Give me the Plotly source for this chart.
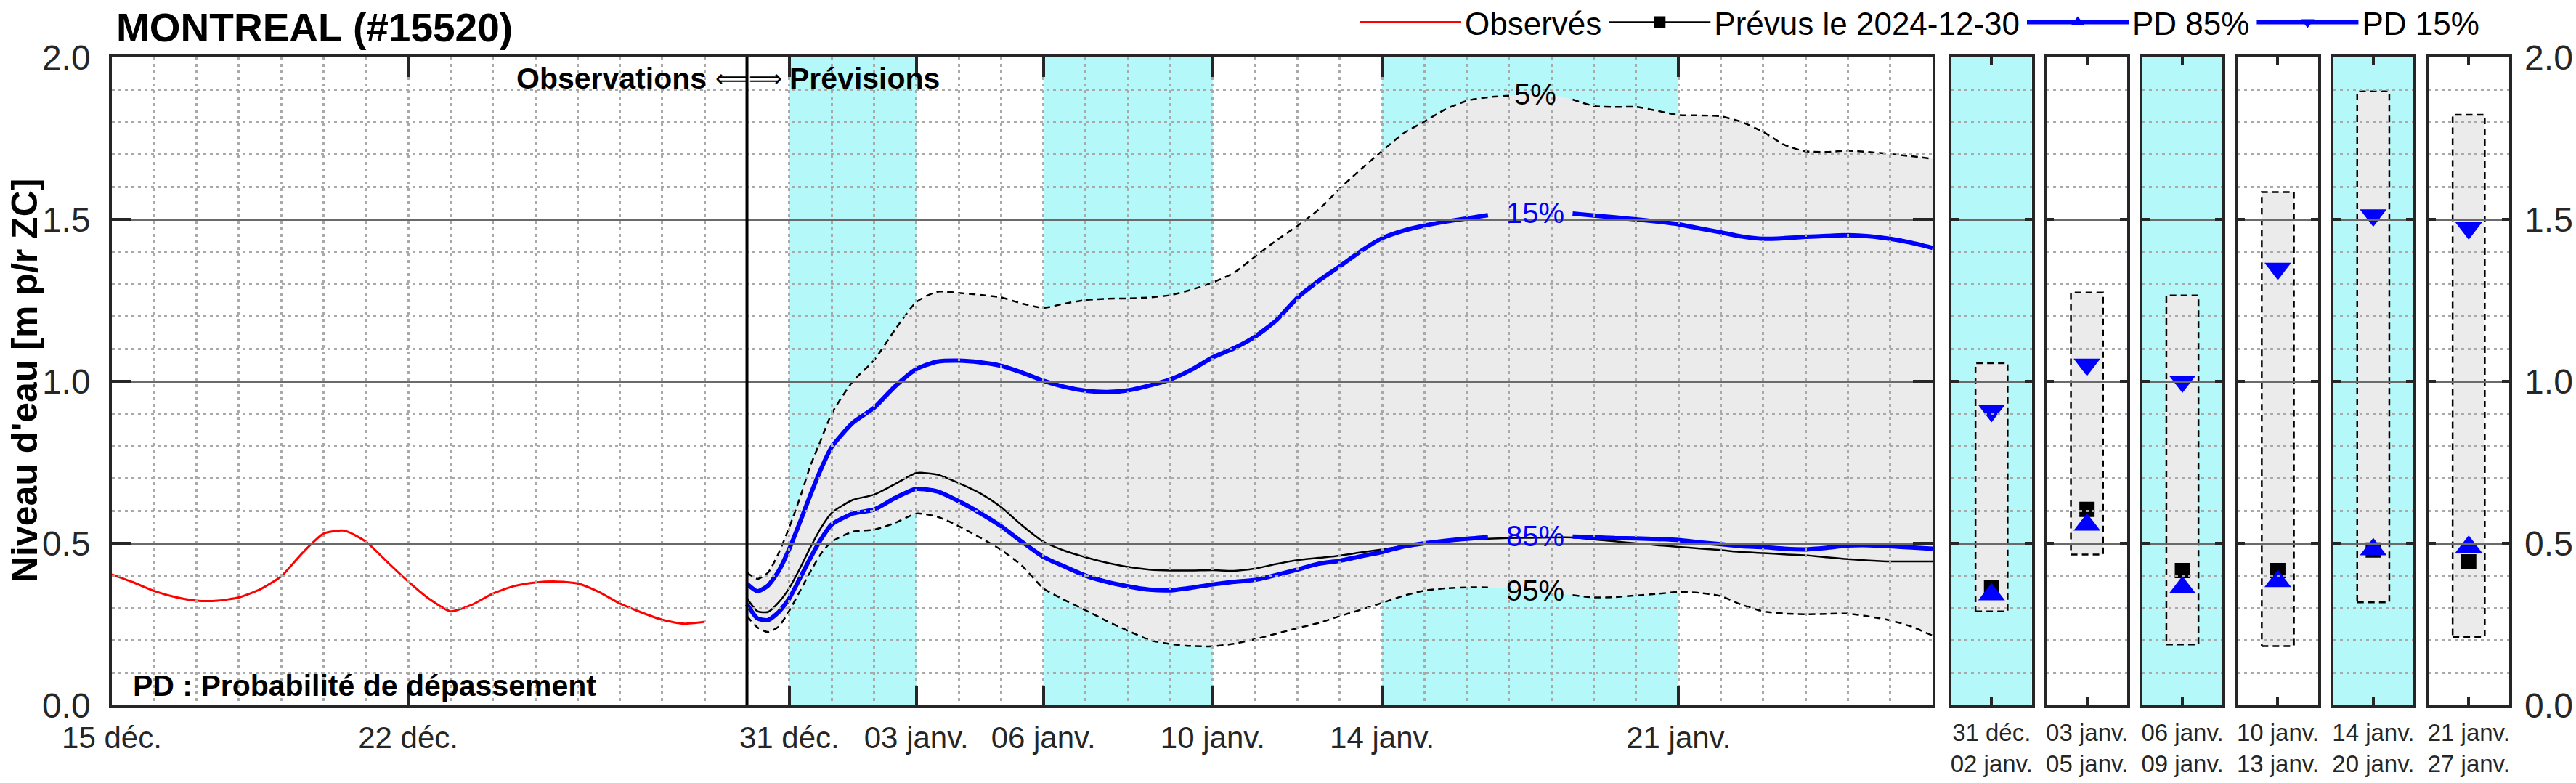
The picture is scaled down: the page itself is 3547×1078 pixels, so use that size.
import numpy as np
import pandas as pd
import plotly.graph_objects as go

W, H = 3547, 1078

# ------------------------------------------------------------------ data
obs_times = pd.date_range("2024-12-15 00:00", "2024-12-29 00:00", freq="12h")
obs_level = [0.404, 0.380, 0.353, 0.334, 0.323, 0.323, 0.333, 0.358, 0.398, 0.470,
             0.530, 0.539, 0.505, 0.443, 0.382, 0.328, 0.290, 0.310, 0.345, 0.368,
             0.379, 0.382, 0.376, 0.350, 0.314, 0.287, 0.264, 0.252, 0.258]

fc_times = pd.date_range("2024-12-30 00:00", periods=8, freq="6h").append(
    pd.date_range("2025-01-01 00:00", "2025-01-27 00:00", freq="12h"))

prevu = [0.330, 0.290, 0.288, 0.318, 0.362, 0.422, 0.488, 0.548,
         0.594, 0.634, 0.650, 0.683, 0.717, 0.712, 0.686, 0.655, 0.612, 0.555,
         0.505, 0.477, 0.457, 0.440, 0.427, 0.419, 0.416, 0.416, 0.417, 0.415,
         0.422, 0.436, 0.448, 0.455, 0.462, 0.472, 0.481, 0.491, 0.500, 0.506,
         0.511, 0.514, 0.516, 0.517, 0.518, 0.518, 0.512, 0.506, 0.500, 0.494,
         0.489, 0.484, 0.479, 0.473, 0.470, 0.466, 0.463, 0.457, 0.451, 0.447,
         0.444, 0.444, 0.444]
pd5 = [0.41, 0.39, 0.41, 0.47, 0.55, 0.64, 0.74, 0.82,
       0.90, 1.00, 1.065, 1.16, 1.245, 1.277, 1.273, 1.267, 1.259, 1.240,
       1.227, 1.240, 1.251, 1.255, 1.256, 1.259, 1.266, 1.283, 1.305, 1.335,
       1.385, 1.435, 1.480, 1.530, 1.595, 1.655, 1.711, 1.765, 1.802, 1.840,
       1.866, 1.877, 1.882, 1.885, 1.884, 1.870, 1.850, 1.847, 1.847, 1.835,
       1.822, 1.821, 1.818, 1.800, 1.770, 1.730, 1.710, 1.708, 1.712, 1.708,
       1.702, 1.695, 1.687]
pd15 = [0.375, 0.352, 0.370, 0.415, 0.483, 0.565, 0.650, 0.730,
        0.797, 0.872, 0.918, 0.985, 1.038, 1.061, 1.064, 1.059, 1.048, 1.027,
        1.002, 0.983, 0.971, 0.967, 0.972, 0.987, 1.006, 1.036, 1.074, 1.102,
        1.138, 1.188, 1.258, 1.310, 1.355, 1.402, 1.442, 1.465, 1.481, 1.493,
        1.503, 1.513, 1.518, 1.520, 1.520, 1.518, 1.512, 1.506, 1.500, 1.493,
        1.485, 1.472, 1.460, 1.447, 1.440, 1.442, 1.446, 1.449, 1.451, 1.448,
        1.440, 1.428, 1.412]
pd85 = [0.312, 0.268, 0.263, 0.288, 0.330, 0.392, 0.455, 0.513,
        0.558, 0.592, 0.604, 0.640, 0.668, 0.660, 0.630, 0.594, 0.553, 0.504,
        0.458, 0.428, 0.400, 0.381, 0.367, 0.357, 0.355, 0.363, 0.373, 0.381,
        0.387, 0.402, 0.419, 0.437, 0.446, 0.460, 0.473, 0.490, 0.500, 0.508,
        0.514, 0.519, 0.521, 0.522, 0.522, 0.521, 0.519, 0.516, 0.515, 0.513,
        0.510, 0.503, 0.497, 0.491, 0.488, 0.483, 0.481, 0.486, 0.493, 0.494,
        0.491, 0.487, 0.483]
pd95 = [0.275, 0.240, 0.226, 0.243, 0.292, 0.352, 0.413, 0.468,
        0.505, 0.536, 0.542, 0.563, 0.592, 0.582, 0.553, 0.518, 0.480, 0.430,
        0.361, 0.325, 0.293, 0.260, 0.230, 0.202, 0.189, 0.183, 0.182, 0.190,
        0.204, 0.221, 0.238, 0.254, 0.275, 0.295, 0.316, 0.338, 0.354, 0.361,
        0.364, 0.364, 0.360, 0.355, 0.348, 0.340, 0.333, 0.334, 0.339, 0.344,
        0.350, 0.347, 0.337, 0.310, 0.290, 0.283, 0.281, 0.282, 0.283, 0.274,
        0.262, 0.243, 0.215]

x_start, x_end = "2024-12-15", "2025-01-27"
tick_dates = ["2024-12-15", "2024-12-22", "2024-12-31", "2025-01-03",
              "2025-01-06", "2025-01-10", "2025-01-14", "2025-01-21"]
tick_labels = ["15 déc.", "22 déc.", "31 déc.", "03 janv.", "06 janv.",
               "10 janv.", "14 janv.", "21 janv."]
bands = [("2024-12-31", "2025-01-03"), ("2025-01-06", "2025-01-10"),
         ("2025-01-14", "2025-01-21")]

period_labels = ["31 déc.<br>02 janv.", "03 janv.<br>05 janv.", "06 janv.<br>09 janv.",
                 "10 janv.<br>13 janv.", "14 janv.<br>20 janv.", "21 janv.<br>27 janv."]
period_cyan = [True, False, True, False, True, False]
per_p5 = [1.056, 1.274, 1.265, 1.584, 1.895, 1.823]
per_p95 = [0.290, 0.465, 0.188, 0.183, 0.318, 0.211]
per_prevu = [0.364, 0.605, 0.416, 0.416, 0.479, 0.443]
per_pd85 = [0.342, 0.557, 0.363, 0.383, 0.481, 0.489]
per_pd15 = [0.909, 1.052, 1.000, 1.348, 1.513, 1.473]

label_time = pd.Timestamp("2025-01-17 15:00")

# ------------------------------------------------------------------ style
FONT = "Liberation Sans, Arial, Helvetica, sans-serif"
AX = "#262626"
CYAN = "#b4f8fa"
GRAYFILL = "#ebebeb"
DOT = "#a9a9a9"
MAJ = "#6a6a6a"
BLUE = "#0000ff"
DASH = "9px,6px"


def px_x(p):
    return p / W


def px_y(p):
    return 1 - p / H


MAIN_X = [px_x(154), px_x(2661)]
MAIN_Y = [px_y(971), px_y(79)]

fc_days = np.asarray((fc_times - label_time) / pd.Timedelta(days=1), dtype=float)


def masked(vals, half):
    return [None if abs(d) < half else v for d, v in zip(fc_days, vals)]


def at_label(vals):
    return float(np.interp(0.0, fc_days, vals))


fig = go.Figure()
spl = dict(shape="spline", smoothing=0.6)

# gray envelope 5%-95%
fig.add_trace(go.Scatter(x=fc_times, y=pd95, mode="lines", line=dict(width=0, **spl),
                         showlegend=False, hoverinfo="skip"))
fig.add_trace(go.Scatter(x=fc_times, y=pd5, mode="lines", fill="tonexty",
                         fillcolor=GRAYFILL, line=dict(width=0, **spl),
                         showlegend=False, hoverinfo="skip"))
# percentile lines
fig.add_trace(go.Scatter(x=fc_times, y=masked(pd95, 0.8), mode="lines",
                         line=dict(color="black", width=2.5, dash=DASH, **spl),
                         showlegend=False))
fig.add_trace(go.Scatter(x=fc_times, y=masked(pd5, 0.6), mode="lines",
                         line=dict(color="black", width=2.5, dash=DASH, **spl),
                         showlegend=False))
fig.add_trace(go.Scatter(x=fc_times, y=prevu, mode="lines",
                         line=dict(color="black", width=2.5, **spl), showlegend=False))
fig.add_trace(go.Scatter(x=fc_times, y=masked(pd85, 0.8), mode="lines",
                         line=dict(color=BLUE, width=6, **spl), showlegend=False))
fig.add_trace(go.Scatter(x=fc_times, y=masked(pd15, 0.8), mode="lines",
                         line=dict(color=BLUE, width=6, **spl), showlegend=False))
fig.add_trace(go.Scatter(x=obs_times, y=obs_level, mode="lines", name="Observés",
                         line=dict(color="red", width=3, **spl), legendrank=1))
# empty trace for the grid/axes layer of the main plot
fig.add_trace(go.Scatter(x=[], y=[], xaxis="x2", yaxis="y2", showlegend=False))

grid_dot = dict(gridcolor=DOT, griddash="4px,5px", gridwidth=3)
axis_common = dict(ticks="inside", tickcolor=AX, showline=True, linecolor=AX,
                   mirror="ticks", zeroline=False, automargin=False)

layout = dict(
    xaxis=dict(domain=MAIN_X, range=[x_start, x_end], type="date", visible=False,
               anchor="y", automargin=False),
    yaxis=dict(domain=MAIN_Y, range=[0, 2], visible=False, anchor="x", automargin=False),
    xaxis2=dict(domain=MAIN_X, range=[x_start, x_end], type="date", anchor="y2",
                tickmode="array", tickvals=tick_dates, ticktext=tick_labels,
                ticklen=27, tickwidth=3.5, linewidth=3.5, showgrid=True, **grid_dot,
                minor=dict(tick0=x_start, dtick=86400000, showgrid=True, ticks="", **grid_dot),
                tickfont=dict(size=42, color=AX, family=FONT), ticklabelstandoff=5,
                **axis_common),
    yaxis2=dict(domain=MAIN_Y, range=[0, 2], anchor="x2", tickmode="linear", tick0=0,
                dtick=0.5, tickformat=".1f", ticklen=27, tickwidth=3.5, linewidth=3.5,
                showgrid=True, gridcolor=MAJ, gridwidth=2.5,
                minor=dict(dtick=0.1, showgrid=True, ticks="", **grid_dot),
                tickfont=dict(size=48, color=AX, family=FONT), ticklabelstandoff=16,
                **axis_common),
)

shapes = []
for a, b in bands:
    shapes.append(dict(type="rect", xref="x", yref="y domain", x0=a, x1=b, y0=0, y1=1,
                       fillcolor=CYAN, line=dict(width=0), layer="below"))

BOX_HALF = 0.2
for i in range(6):
    nd, ng = 3 + 2 * i, 4 + 2 * i
    left = 2687 + i * 131.4
    dom = [px_x(left), px_x(left + 110.5)]
    xd, yd, xg, yg = f"x{nd}", f"y{nd}", f"x{ng}", f"y{ng}"
    layout[f"xaxis{nd}"] = dict(domain=dom, range=[-0.5, 0.5], visible=False, anchor=yd,
                                automargin=False)
    layout[f"yaxis{nd}"] = dict(domain=MAIN_Y, range=[0, 2], visible=False, anchor=xd,
                                automargin=False)
    layout[f"xaxis{ng}"] = dict(domain=dom, range=[-0.5, 0.5], anchor=yg, tickmode="array",
                                tickvals=[0], ticktext=[period_labels[i]], ticklen=11,
                                tickwidth=3.5, linewidth=4, showgrid=False,
                                tickfont=dict(size=33, color=AX, family=FONT),
                                ticklabelstandoff=5, **axis_common)
    layout[f"yaxis{ng}"] = dict(domain=MAIN_Y, range=[0, 2], anchor=xg, tickmode="linear",
                                tick0=0, dtick=0.5, tickformat=".1f", ticklen=10,
                                tickwidth=4, linewidth=4, showgrid=True, gridcolor=MAJ,
                                gridwidth=2.5,
                                minor=dict(dtick=0.1, showgrid=True, ticks="", **grid_dot),
                                showticklabels=(i == 5), side="right" if i == 5 else "left",
                                tickfont=dict(size=48, color=AX, family=FONT),
                                ticklabelstandoff=8, **axis_common)
    if period_cyan[i]:
        shapes.append(dict(type="rect", xref=f"{xd} domain", yref=f"{yd} domain",
                           x0=0, x1=1, y0=0, y1=1, fillcolor=CYAN,
                           line=dict(width=0), layer="below"))
    lo, hi = per_p95[i], per_p5[i]
    fig.add_trace(go.Bar(x=[0], y=[hi - lo], base=[lo], width=2 * BOX_HALF,
                         marker=dict(color=GRAYFILL, line=dict(width=0)),
                         xaxis=xd, yaxis=yd, showlegend=False, hoverinfo="skip"))
    fig.add_trace(go.Scatter(x=[-BOX_HALF, BOX_HALF, BOX_HALF, -BOX_HALF, -BOX_HALF],
                             y=[lo, lo, hi, hi, lo], mode="lines",
                             line=dict(color="black", width=2.5, dash=DASH),
                             xaxis=xd, yaxis=yd, showlegend=False, hoverinfo="skip"))
    first = i == 0
    fig.add_trace(go.Scatter(x=[0], y=[per_prevu[i]], mode="lines+markers",
                             name="Prévus le 2024-12-30", legendgroup="prevu",
                             legendrank=2, showlegend=first,
                             line=dict(color="black", width=2.5),
                             marker=dict(symbol="square", size=21, color="black"),
                             xaxis=xd, yaxis=yd))
    fig.add_trace(go.Scatter(x=[0], y=[per_pd85[i]], mode="lines+markers",
                             name="PD 85%", legendgroup="pd85", legendrank=3,
                             showlegend=first, line=dict(color=BLUE, width=6),
                             marker=dict(symbol="triangle-up", size=32, color=BLUE),
                             xaxis=xd, yaxis=yd))
    fig.add_trace(go.Scatter(x=[0], y=[per_pd15[i]], mode="lines+markers",
                             name="PD 15%", legendgroup="pd15", legendrank=4,
                             showlegend=first, line=dict(color=BLUE, width=6),
                             marker=dict(symbol="triangle-down", size=32, color=BLUE),
                             xaxis=xd, yaxis=yd))
    fig.add_trace(go.Scatter(x=[], y=[], xaxis=xg, yaxis=yg, showlegend=False))

# forecast start separator
shapes.append(dict(type="line", xref="x", yref="y domain", x0=fc_times[0], x1=fc_times[0],
                   y0=0, y1=1, line=dict(color="black", width=4), layer="above"))

annotations = [
    dict(text="<b>MONTREAL (#15520)</b>", x=px_x(158), y=px_y(38), xref="paper",
         yref="paper", xanchor="left", yanchor="middle", showarrow=False,
         font=dict(size=55, color="black", family=FONT)),
    dict(text="<b>Observations</b>", x=px_x(975), y=px_y(108), xref="paper", yref="paper",
         xanchor="right", yanchor="middle", showarrow=False,
         font=dict(size=41, color="black", family=FONT)),
    dict(text="⟸⟹", x=px_x(1031), y=px_y(108), xref="paper", yref="paper",
         xanchor="center", yanchor="middle", showarrow=False,
         font=dict(size=32, color="black", family="DejaVu Sans")),
    dict(text="<b>Prévisions</b>", x=px_x(1085), y=px_y(108), xref="paper", yref="paper",
         xanchor="left", yanchor="middle", showarrow=False,
         font=dict(size=41, color="black", family=FONT)),
    dict(text="<b>PD : Probabilité de dépassement</b>", x=px_x(181), y=px_y(944),
         xref="paper", yref="paper", xanchor="left", yanchor="middle", showarrow=False,
         font=dict(size=41, color="black", family=FONT)),
    dict(text="<b>Niveau d'eau [m p/r ZC]</b>", x=px_x(34), y=px_y(524), xref="paper",
         yref="paper", textangle=-90, xanchor="center", yanchor="middle", showarrow=False,
         font=dict(size=50, color="black", family=FONT)),
]
for vals, txt, col in [(pd5, "5%", "black"), (pd15, "15%", BLUE),
                       (pd85, "85%", BLUE), (pd95, "95%", "black")]:
    annotations.append(dict(text=txt, x=label_time, y=at_label(vals), xref="x2", yref="y2",
                            xanchor="center", yanchor="middle", showarrow=False,
                            font=dict(size=40, color=col, family=FONT)))

fig.update_layout(
    template="none",
    width=W, height=H, margin=dict(l=0, r=0, t=0, b=0, pad=0, autoexpand=False),
    paper_bgcolor="white", plot_bgcolor="rgba(0,0,0,0)",
    shapes=shapes, annotations=annotations, barmode="overlay",
    legend=dict(orientation="h", x=px_x(1867), y=px_y(31), xanchor="left",
                yanchor="middle", font=dict(size=44, family=FONT, color="black"),
                bgcolor="rgba(0,0,0,0)", traceorder="normal", itemwidth=140),
    **layout,
)

fig.write_html("out.html", config={"displayModeBar": False},
               post_script="document.body.style.margin='0px';")
